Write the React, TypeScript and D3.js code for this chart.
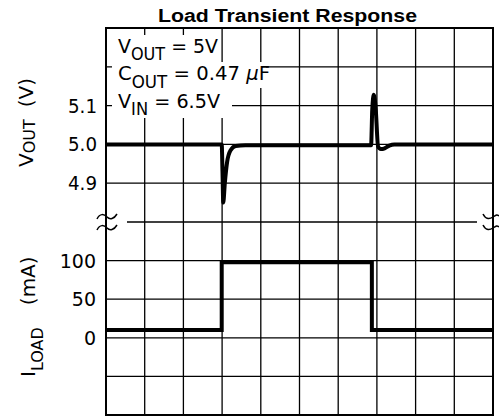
import React from 'react'
import * as d3 from 'd3'

// time axis in divisions (0..10), output voltage in V, load current in mA
const vTime = [0, 2.99, 3.01, 3.03, 3.07, 3.13, 3.22, 3.35, 3.6, 6.85, 6.88, 6.92, 6.97, 7.03, 7.1, 7.2, 7.32, 7.45, 10]
const vOut = [5.0, 5.0, 4.93, 4.85, 4.9, 4.955, 4.985, 4.996, 4.998, 4.998, 5.09, 5.128, 5.09, 4.995, 4.988, 4.99, 4.997, 5.0, 5.0]
const iTime = [0, 2.99, 2.99, 6.87, 6.87, 10]
const iLoad = [10, 10, 98, 98, 10, 10]

const vTicks = [5.1, 5.0, 4.9]
const iTicks = [100, 50, 0]
const vGrid = [5.2, 5.1, 5.0, 4.9]
const iGrid = [100, 50, 0, -50]

const W = 499
const H = 417
const left = 106
const right = 493
const top = 28
const bottom = 415

const font = 'DejaVu Sans, sans-serif'

export default function App() {
  const x = d3.scaleLinear().domain([0, 10]).range([left, right])
  const yV = d3.scaleLinear().domain([4.8, 5.3]).range([222, top])
  const yI = d3.scaleLinear().domain([-100, 150]).range([bottom, 222])

  const vLine = d3
    .line<number>()
    .x((d, i) => x(vTime[i]))
    .y((d) => yV(d))
    .curve(d3.curveMonotoneX)
  const iLine = d3
    .line<number>()
    .x((d, i) => x(iTime[i]))
    .y((d) => yI(d))

  const breakY = yV(4.8)

  return (
    <svg width={W} height={H} style={{position: 'absolute', left: 0, top: 0, background: '#fff'}}>
      <rect x={0} y={0} width={W} height={H} fill="#fff" />
      <text x={158} y={22} fontFamily="Liberation Sans, Arial, sans-serif" fontWeight="bold" fontSize={17.5}
        textLength={259} lengthAdjust="spacingAndGlyphs">Load Transient Response</text>

      {/* grid */}
      <g stroke="#000" strokeWidth={1.3}>
        {d3.range(1, 10).map((k) => (
          <line key={'v' + k} x1={x(k)} x2={x(k)} y1={top} y2={bottom} />
        ))}
        {vGrid.map((v) => (
          <line key={'gv' + v} x1={left} x2={right} y1={yV(v)} y2={yV(v)} />
        ))}
        {iGrid.map((v) => (
          <line key={'gi' + v} x1={left} x2={right} y1={yI(v)} y2={yI(v)} />
        ))}
        <line x1={127} x2={477} y1={breakY} y2={breakY} />
      </g>

      {/* annotation knockout */}
      <g fill="#fff">
        <rect x={112} y={35} width={109} height={27} />
        <rect x={112} y={62} width={154} height={26} />
        <rect x={112} y={88} width={120} height={30} />
      </g>
      <rect x={left} y={top} width={right - left} height={bottom - top} fill="none" stroke="#000" strokeWidth={2} />

      {/* break marks */}
      <g fill="none" stroke="#000" strokeWidth={1.5}>
        {[-5, 6].map((dy) => (
          <path key={'l' + dy} d={`M97,${breakY + dy + 2} C100,${breakY + dy - 4} 104,${breakY + dy - 3} 107,${breakY + dy} S114,${breakY + dy + 2} 117,${breakY + dy - 3}`} />
        ))}
        {[-5, 6].map((dy) => (
          <path key={'r' + dy} d={`M483,${breakY + dy - 3} C486,${breakY + dy + 3} 490,${breakY + dy + 2} 493,${breakY + dy} S497,${breakY + dy - 3} 499,${breakY + dy - 1}`} />
        ))}
      </g>

      {/* traces */}
      <path d={iLine(iLoad) || ''} fill="none" stroke="#000" strokeWidth={4} />
      <path d={vLine(vOut) || ''} fill="none" stroke="#000" strokeWidth={4} strokeLinejoin="round" />

      {/* annotations */}
      <g fontFamily={font} fontSize={20} fill="#000">
        <text x={118} y={53} textLength={100} lengthAdjust="spacingAndGlyphs">
          V<tspan fontSize={17} dy={7}>OUT</tspan><tspan dy={-7}> = 5V</tspan>
        </text>
        <text x={118} y={80} textLength={152} lengthAdjust="spacingAndGlyphs">
          C<tspan fontSize={17} dy={8}>OUT</tspan><tspan dy={-8}> = 0.47 </tspan><tspan fontStyle="italic">μ</tspan>F
        </text>
        <text x={118} y={108} textLength={102} lengthAdjust="spacingAndGlyphs">
          V<tspan fontSize={17} dy={7}>IN</tspan><tspan dy={-7}> = 6.5V</tspan>
        </text>
      </g>

      {/* tick labels */}
      <g fontFamily={font} fontSize={19} textAnchor="end" fill="#000">
        {vTicks.map((v) => (
          <text key={'tv' + v} x={97} y={yV(v) + 7} textLength={29} lengthAdjust="spacingAndGlyphs">{v.toFixed(1)}</text>
        ))}
        {iTicks.map((v) => (
          <text key={'ti' + v} x={96} y={yI(v) + 7}>{v}</text>
        ))}
      </g>

      {/* axis titles */}
      <g fontFamily={font} fontSize={20} fill="#000">
        <text transform="translate(33,167) rotate(-90)">
          V<tspan fontSize={16} dy={2}>OUT</tspan><tspan dy={-2} dx={12}>(V)</tspan>
        </text>
        <text transform="translate(35,377) rotate(-90)">
          I<tspan fontSize={16} dy={8}>LOAD</tspan><tspan dy={-8} dx={22}>(mA)</tspan>
        </text>
      </g>
    </svg>
  )
}
